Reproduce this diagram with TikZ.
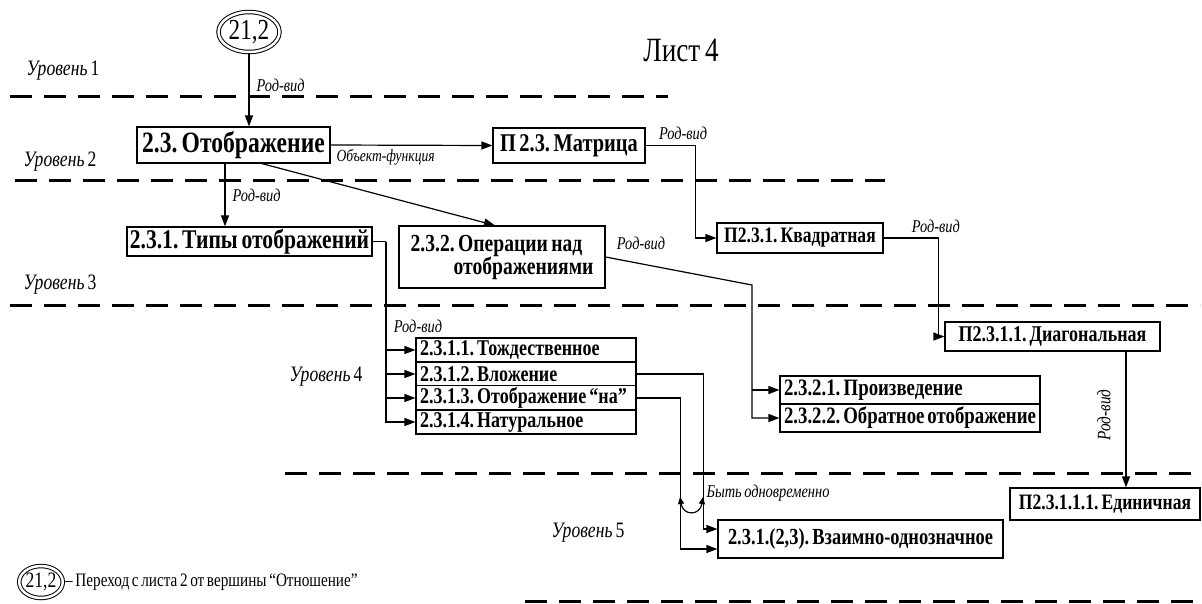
\documentclass[tikz,border=0pt]{standalone}
\usepackage{fontspec}
\setmainfont{Liberation Serif}[FakeStretch=0.8,WordSpace=0.7]
\usetikzlibrary{shapes.geometric,arrows.meta}
\frenchspacing

\begin{document}
\begin{tikzpicture}[x=1pt,y=-1pt]

\definecolor{def_node_fill}{RGB}{255,255,255}
\definecolor{def_node_text}{RGB}{0,0,0}
\definecolor{def_node_draw}{RGB}{0,0,0}
\tikzstyle{box_style}=[draw=def_node_draw,fill=def_node_fill,text=def_node_text,line width=1.2pt,rectangle,inner sep=2pt]
\tikzstyle{row_style}=[box_style,inner xsep=4pt,align=flush left,font=\fontsize{22.5}{22.5}\selectfont\bfseries]
\tikzstyle{sheet_style}=[draw=def_node_draw,text=def_node_text,ellipse,double,double distance=2.5pt,line width=1pt,inner sep=0pt]
\tikzstyle{label_style}=[text=def_node_text,inner sep=1pt,font=\fontsize{18}{18}\selectfont\itshape]
\tikzstyle{level_text}=[text=def_node_text,inner sep=0pt,font=\fontsize{22}{22}\selectfont]

\definecolor{def_edge_draw}{RGB}{0,0,0}
\tikzstyle{edge_style}=[draw=def_edge_draw,line width=1.2pt,>={Triangle[length=11pt,width=8pt]}]
\tikzstyle{level_line}=[draw=def_edge_draw,line width=3pt,dash pattern=on 22pt off 12pt]

\useasboundingbox (0,0) rectangle (1202,603);

\draw[level_line] (10,96) -- (668,96);
\draw[level_line] (15,180) -- (885,180);
\draw[level_line] (10,305) -- (1200,305);
\draw[level_line] (285,473) -- (1202,473);
\draw[level_line] (525,601) -- (1202,601);

\node(lev1) at (63,71) [level_text] {\textit{Уровень} 1};

\node(lev2) at (60,162) [level_text] {\textit{Уровень} 2};

\node(lev3) at (60,285) [level_text] {\textit{Уровень} 3};

\node(lev4) at (326,377) [level_text] {\textit{Уровень} 4};

\node(lev5) at (588,533) [level_text] {\textit{Уровень} 5};

\node(sheet) at (681,50) [level_text,font=\fontsize{34}{34}\selectfont] {Лист 4};

\node(src) at (249,32) [sheet_style,minimum width=61,minimum height=40,font=\fontsize{29}{29}\selectfont] {21,2};

\node(map) at (233.5,145) [box_style,minimum width=193,minimum height=36,font=\fontsize{29.5}{29.5}\selectfont\bfseries] {2.3. Отображение};

\node(mat) at (569,145.5) [box_style,minimum width=152,minimum height=35,font=\fontsize{25.5}{25.5}\selectfont\bfseries] {П 2.3. Матрица};

\node(types) at (249.5,241.5) [box_style,minimum width=245,minimum height=29,font=\fontsize{27}{27}\selectfont\bfseries] {2.3.1. Типы отображений};

\node(ops) at (502,257) [box_style,minimum width=206,minimum height=62,align=right,font=\fontsize{24.5}{23}\selectfont\bfseries] {2.3.2. Операции над\hspace*{11pt}\\отображениями};

\node(kvad) at (800,238) [box_style,minimum width=166,minimum height=30,font=\fontsize{22}{22}\selectfont\bfseries] {П2.3.1. Квадратная};

\node(diag) at (1052.5,336.5) [box_style,minimum width=215,minimum height=29,font=\fontsize{22.5}{22.5}\selectfont\bfseries] {П2.3.1.1. Диагональная};

\node(unit) at (1105,504) [box_style,minimum width=190,minimum height=32,font=\fontsize{22}{22}\selectfont\bfseries] {П2.3.1.1.1. Единичная};

\node(r1) at (526,350) [row_style,text width=212,minimum height=24] {2.3.1.1. Тождественное};

\node(r2) at (526,374) [row_style,text width=212,minimum height=24] {2.3.1.2. Вложение};

\node(r3) at (526,398) [row_style,text width=212,minimum height=24] {2.3.1.3. Отображение “на”};

\node(r4) at (526,422) [row_style,text width=212,minimum height=24] {2.3.1.4. Натуральное};

\node(p1) at (910,390) [row_style,text width=252,minimum height=28,font=\fontsize{23.5}{23.5}\selectfont\bfseries] {2.3.2.1. Произведение};

\node(p2) at (910,418) [row_style,text width=252,minimum height=28,font=\fontsize{23.5}{23.5}\selectfont\bfseries] {2.3.2.2. Обратное отображение};

\node(bij) at (860.5,539) [box_style,minimum width=285,minimum height=38,font=\fontsize{23}{23}\selectfont\bfseries] {2.3.1.(2,3). Взаимно-однозначное};

\node(legsrc) at (41,582) [sheet_style,minimum width=39,minimum height=32,font=\fontsize{22}{22}\selectfont] {21,2};

\node(legtext) at (65,582) [level_text,anchor=west,font=\fontsize{19}{19}\selectfont] {– Переход с листа 2 от вершины “Отношение”};

\coordinate (trunk) at (386,241.5);
\coordinate (opsbend) at (752,285);
\coordinate (arcl) at (680,497);
\coordinate (arcr) at (703,497);

\draw[->,edge_style] (src) -- (src.south |- map.north) node[label_style,pos=0.45,right=6pt] {Род-вид};
\draw[->,edge_style] (map.east) -- (mat.west) node[label_style,pos=0.34,below=3pt,font=\fontsize{17}{17}\selectfont\itshape] {Объект-функция};
\draw[->,edge_style] ([xshift=-8.5]map.south) -- ([xshift=-8.5]map.south |- types.north) node[label_style,midway,right=6pt] {Род-вид};
\draw[->,edge_style] ([xshift=28.5]map.south) -- ([xshift=-7]ops.north);
\draw[->,edge_style] (mat.east) -- ++(50,0) node[label_style,pos=0.75,above=4pt] {Род-вид} |- (kvad.west);
\draw[->,edge_style] (kvad.east) -- ++(55,0) node[label_style,pos=0.95,above=4pt] {Род-вид} |- (diag.west);
\draw[->,edge_style] ([xshift=73.5]diag.south) -- ([xshift=73.5]diag.south |- unit.north);
\node(unitlbl) at (1104,415) [label_style,rotate=90,font=\fontsize{19}{19}\selectfont\itshape] {Род-вид};

\draw[edge_style] (types.east) -- (trunk);
\draw[->,edge_style] (trunk) |- (r4.west);
\draw[->,edge_style] (trunk |- r1.west) -- (r1.west);
\draw[->,edge_style] (trunk |- r2.west) -- (r2.west);
\draw[->,edge_style] (trunk |- r3.west) -- (r3.west);
\node(typeslbl) at (418,326) [label_style] {Род-вид};

\draw[->,edge_style] (ops.east) -- (opsbend) |- (p2.west);
\draw[->,edge_style] (opsbend |- p1.west) -- (p1.west);
\node(opslbl) at (641,243) [label_style] {Род-вид};

\draw[->,edge_style] (r2.east) -- ++(67,0) |- ([yshift=10]bij.west);
\draw[->,edge_style] (r3.east) -- ++(44,0) |- ([yshift=-10]bij.west);
\draw[{Triangle[length=7pt,width=6pt]}-{Triangle[length=7pt,width=6pt]},edge_style] (arcl) .. controls (683,516) and (700,516) .. (arcr);
\node(both) at (768,493) [label_style] {Быть одновременно};

\end{tikzpicture}
\end{document}
